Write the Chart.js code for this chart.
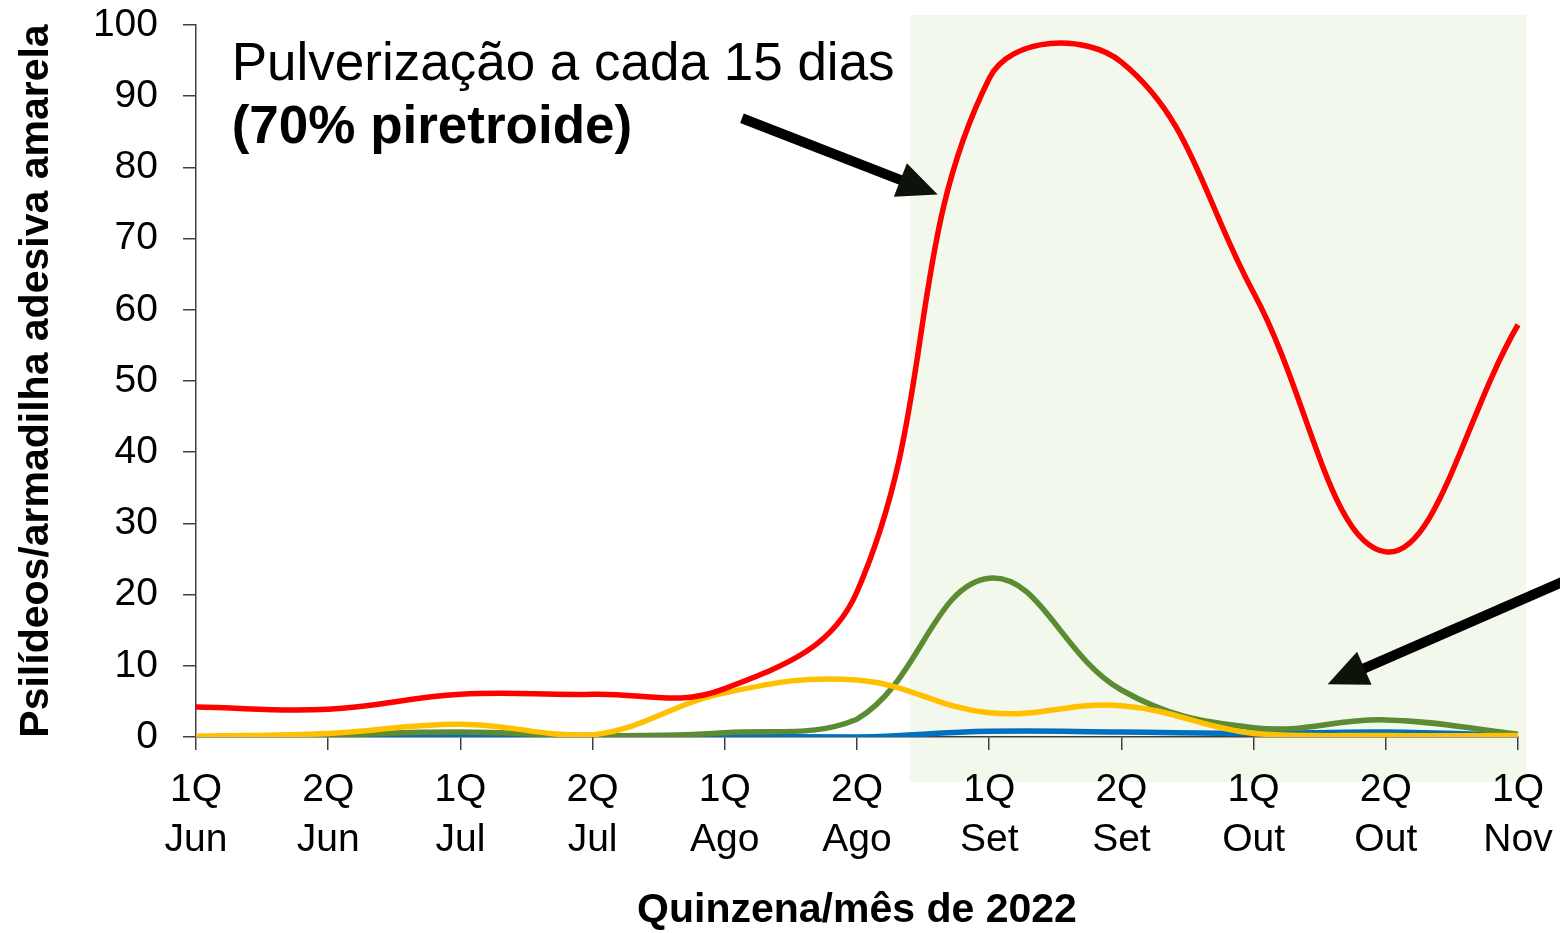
<!DOCTYPE html>
<html>
<head>
<meta charset="utf-8">
<script src="https://cdn.jsdelivr.net/npm/chart.js@4.4.1/dist/chart.umd.min.js"></script>
<style>
  html, body { margin: 0; padding: 0; background: #ffffff; }
  #wrap { width: 1560px; height: 933px; position: relative; }
</style>
</head>
<body>
<div id="wrap"><canvas id="c"></canvas></div>
<script>
// ---- data ----
const quinzenas = ['1Q', '2Q', '1Q', '2Q', '1Q', '2Q', '1Q', '2Q', '1Q', '2Q', '1Q'];
const meses = ['Jun', 'Jun', 'Jul', 'Jul', 'Ago', 'Ago', 'Set', 'Set', 'Out', 'Out', 'Nov'];
const serieVermelha = [4.2, 3.9, 6.0, 6.0, 6.8, 20.4, 92.5, 94.8, 62.4, 26.0, 57.9];
const serieAmarela  = [0.1, 0.5, 1.8, 0.3, 6.2, 8.0, 3.4, 4.4, 0.5, 0.2, 0.2];
const serieVerde    = [0.0, 0.3, 0.7, 0.2, 0.6, 2.5, 22.3, 6.6, 1.3, 2.4, 0.4];
const serieAzul     = [0.0, 0.0, 0.2, 0.0, 0.1, 0.0, 0.8, 0.7, 0.5, 0.7, 0.2];
const yTicks = [0, 10, 20, 30, 40, 50, 60, 70, 80, 90, 100];
const tituloY = 'Psilídeos/armadilha adesiva amarela';
const tituloX = 'Quinzena/mês de 2022';
const anotacaoLinha1 = 'Pulverização a cada 15 dias';
const anotacaoLinha2 = '(70% piretroide)';
// shaded period (category index range / value range)
const periodoX = [5.4, 10.06];
const periodoY = [-6.3, 101.4];
// arrows: [startIndex, startValue, tipIndex, tipValue]
const setas = [
  [4.13, 86.9, 5.61, 76.2],
  [10.35, 21.9, 8.56, 7.4]
];

const labels = quinzenas.map((q, i) => [q, meses[i]]);
const FONT = '"Liberation Sans", Arial, sans-serif';

const bgPlugin = {
  id: 'periodo',
  beforeDraw(chart) {
    const { ctx, scales: { x, y } } = chart;
    const x0 = x.getPixelForValue(periodoX[0]);
    const x1 = x.getPixelForValue(periodoX[1]);
    const y0 = y.getPixelForValue(periodoY[1]);
    const y1 = y.getPixelForValue(periodoY[0]);
    ctx.save();
    ctx.fillStyle = '#f2f8ec';
    ctx.fillRect(x0, y0, x1 - x0, y1 - y0);
    ctx.restore();
  }
};

const annotPlugin = {
  id: 'anotacoes',
  afterDraw(chart) {
    const { ctx, scales: { x, y } } = chart;
    ctx.save();
    ctx.fillStyle = '#000';
    ctx.textBaseline = 'alphabetic';
    ctx.textAlign = 'left';
    const tx = x.getPixelForValue(0.27);
    ctx.font = '53px ' + FONT;
    ctx.fillText(anotacaoLinha1, tx, y.getPixelForValue(92.3));
    ctx.font = 'bold 53px ' + FONT;
    ctx.fillText(anotacaoLinha2, tx, y.getPixelForValue(83.4));
    // arrows
    setas.forEach(([si, sv, ti, tv]) => {
      const sx = x.getPixelForValue(si), sy = y.getPixelForValue(sv);
      const ex = x.getPixelForValue(ti), ey = y.getPixelForValue(tv);
      const ang = Math.atan2(ey - sy, ex - sx);
      const headLen = 40, headHalf = 18;
      const bx = ex - headLen * Math.cos(ang), by = ey - headLen * Math.sin(ang);
      ctx.strokeStyle = '#000';
      ctx.lineWidth = 10;
      ctx.lineCap = 'butt';
      ctx.beginPath();
      ctx.moveTo(sx, sy);
      ctx.lineTo(bx + 2 * Math.cos(ang), by + 2 * Math.sin(ang));
      ctx.stroke();
      ctx.fillStyle = '#0d120a';
      ctx.beginPath();
      ctx.moveTo(ex, ey);
      ctx.lineTo(bx + headHalf * Math.sin(ang), by - headHalf * Math.cos(ang));
      ctx.lineTo(bx - headHalf * Math.sin(ang), by + headHalf * Math.cos(ang));
      ctx.closePath();
      ctx.fill();
    });
    ctx.restore();
  }
};

const lw = 5.5;
const tension = 0.4;
const mk = (data, color) => ({
  data, borderColor: color, backgroundColor: color, borderWidth: lw,
  pointRadius: 0, pointHoverRadius: 0, tension, fill: false,
  cubicInterpolationMode: 'default'
});

new Chart(document.getElementById('c'), {
  type: 'line',
  data: {
    labels,
    datasets: [
      mk(serieVermelha, '#ff0000'),
      mk(serieAmarela, '#ffc000'),
      mk(serieVerde, '#5b8b32'),
      mk(serieAzul, '#0070c0')
    ]
  },
  options: {
    responsive: true,
    maintainAspectRatio: false,
    animation: false,
    events: [],
    layout: { padding: { left: 0, right: 42, top: 25, bottom: 0 } },
    plugins: { legend: { display: false }, tooltip: { enabled: false } },
    scales: {
      x: {
        type: 'category',
        offset: false,
        afterFit(s) { s.height = 196; s.paddingLeft = 0; s.paddingRight = 0; },
        grid: { drawOnChartArea: false, drawTicks: true, tickLength: 13, color: '#404040', lineWidth: 1.5 },
        border: { display: true, color: '#404040', width: 1.5 },
        ticks: { color: '#000', padding: 15, maxRotation: 0, autoSkip: false,
                 font: { family: FONT, size: 39, lineHeight: 1.28 } },
        title: { display: true, text: tituloX, color: '#000',
                 font: { family: FONT, size: 41, weight: 'bold', lineHeight: 1.1 },
                 padding: { top: 0, bottom: 0 } }
      },
      y: {
        min: 0, max: 100,
        afterFit(s) { s.width = 196; s.paddingTop = 0; s.paddingBottom = 0; },
        afterBuildTicks(s) { s.ticks = yTicks.map(v => ({ value: v })); },
        grid: { drawOnChartArea: false, drawTicks: true, tickLength: 13, color: '#404040', lineWidth: 1.5 },
        border: { display: true, color: '#404040', width: 1.5 },
        ticks: { color: '#000', padding: 25, font: { family: FONT, size: 39 } },
        title: { display: true, text: tituloY, color: '#000',
                 font: { family: FONT, size: 41, weight: 'bold', lineHeight: 1.1 },
                 padding: { top: 14, bottom: 0 } }
      }
    }
  },
  plugins: [bgPlugin, annotPlugin]
});
</script>
</body>
</html>
